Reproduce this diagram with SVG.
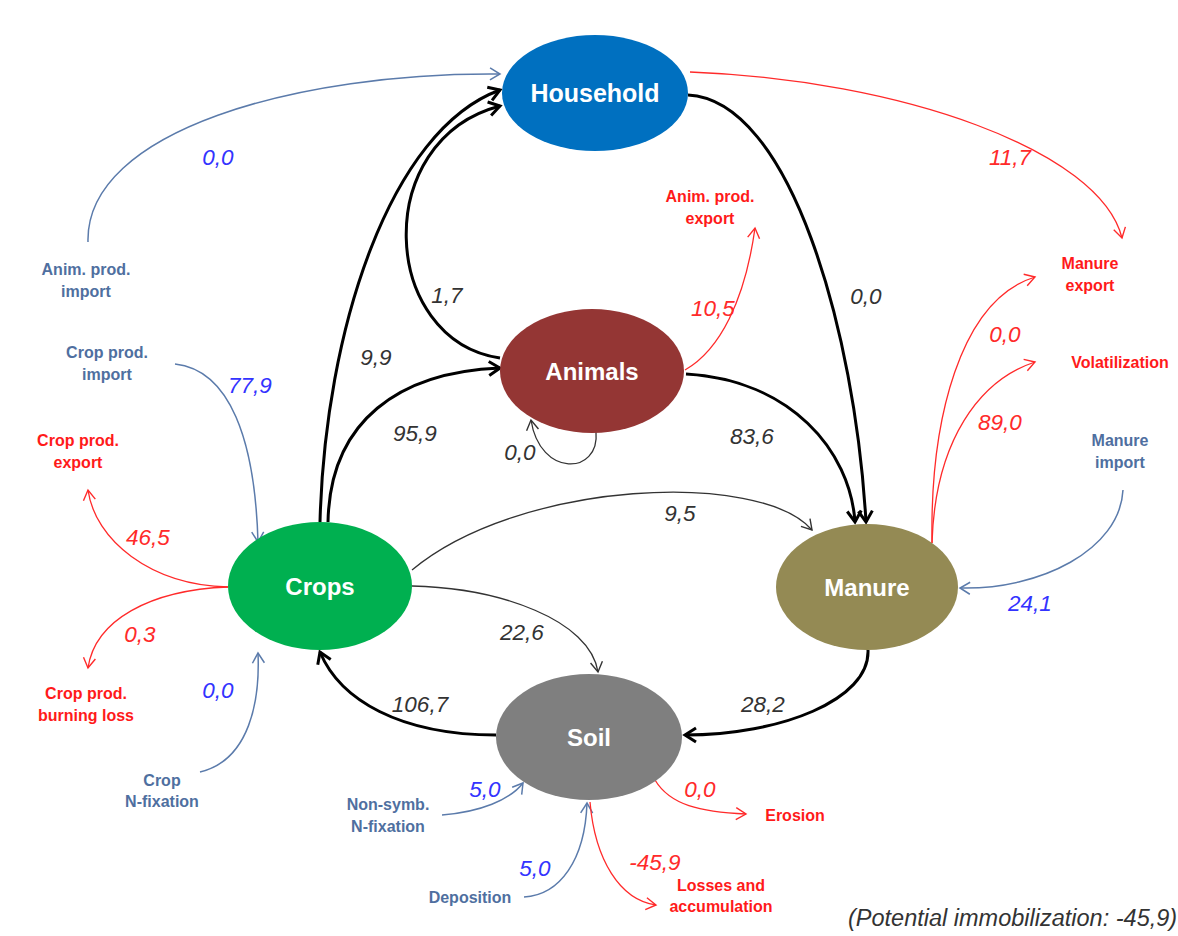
<svg xmlns="http://www.w3.org/2000/svg" width="1178" height="936" viewBox="0 0 1178 936">
<style>
.node text{font-family:"Liberation Sans",Arial,sans-serif;font-weight:bold;font-size:24px;fill:#fff;text-anchor:middle}
.lbl{font-family:"Liberation Sans",Arial,sans-serif;font-weight:bold;font-size:16px;text-anchor:middle}
.lb{fill:#4F6FA0}
.lr{fill:#FF1A1A}
.num{font-family:"Liberation Sans",Arial,sans-serif;font-style:italic;font-size:22.5px;text-anchor:middle}
.nk{fill:#333}
.nb{fill:#3333FF}
.nr{fill:#FF2A2A}
.ck{fill:none;stroke:#000;stroke-width:3}
.cg{fill:none;stroke:#333;stroke-width:1.3}
.cr{fill:none;stroke:#FF2A2A;stroke-width:1.3}
.cb{fill:none;stroke:#5B7BAB;stroke-width:1.5}
</style>
<defs>
<marker id="mk" markerUnits="userSpaceOnUse" markerWidth="18" markerHeight="18" viewBox="0 0 18 18" refX="15" refY="9" orient="auto"><path d="M4,2 L15,9 L4,16" fill="none" stroke="#000" stroke-width="3"/></marker>
<marker id="mg" markerUnits="userSpaceOnUse" markerWidth="16" markerHeight="16" viewBox="0 0 16 16" refX="13" refY="8" orient="auto"><path d="M3,2 L13,8 L3,14" fill="none" stroke="#333" stroke-width="1.4"/></marker>
<marker id="mr" markerUnits="userSpaceOnUse" markerWidth="16" markerHeight="16" viewBox="0 0 16 16" refX="13" refY="8" orient="auto"><path d="M3,2 L13,8 L3,14" fill="none" stroke="#FF2A2A" stroke-width="1.4"/></marker>
<marker id="mb" markerUnits="userSpaceOnUse" markerWidth="16" markerHeight="16" viewBox="0 0 16 16" refX="13" refY="8" orient="auto"><path d="M3,2 L13,8 L3,14" fill="none" stroke="#5B7BAB" stroke-width="1.5"/></marker>
</defs>
<rect width="1178" height="936" fill="#fff"/>

<g id="connectors">
<path class="cb" d="M88,242 C85,130 300,72 500,74" marker-end="url(#mb)"/>
<path class="ck" d="M320,522 C325,330 390,130 500,90" marker-end="url(#mk)"/>
<path class="ck" d="M500,358 C380,340 370,140 500,106" marker-end="url(#mk)"/>
<path class="ck" d="M328,522 C330,420 400,372 500,368" marker-end="url(#mk)"/>
<path class="cg" d="M596,432 C600,475 540,478 531,420" marker-end="url(#mg)"/>
<path class="cr" d="M685,370 C720,350 745,300 755,228" marker-end="url(#mr)"/>
<path class="ck" d="M688,95 C790,100 855,330 866,522" marker-end="url(#mk)"/>
<path class="cr" d="M690,72 C900,80 1100,150 1122,238" marker-end="url(#mr)"/>
<path class="ck" d="M686,374 C790,380 850,450 855,522" marker-end="url(#mk)"/>
<path class="cg" d="M412,570 C520,480 760,470 812,530" marker-end="url(#mg)"/>
<path class="cg" d="M412,586 C500,588 590,620 598,672" marker-end="url(#mg)"/>
<path class="ck" d="M496,735 C400,735 340,700 320,652" marker-end="url(#mk)"/>
<path class="ck" d="M868,650 C870,700 780,735 685,735" marker-end="url(#mk)"/>
<path class="cr" d="M932,543 C930,420 960,300 1035,277" marker-end="url(#mr)"/>
<path class="cr" d="M932,543 C935,440 980,380 1035,362" marker-end="url(#mr)"/>
<path class="cb" d="M1123,490 C1120,550 1040,590 960,588" marker-end="url(#mb)"/>
<path class="cb" d="M175,364 C230,370 255,440 258,542" marker-end="url(#mb)"/>
<path class="cr" d="M228,587 C150,585 95,540 88,490" marker-end="url(#mr)"/>
<path class="cr" d="M228,587 C150,590 95,620 88,668" marker-end="url(#mr)"/>
<path class="cb" d="M200,772 C250,760 260,700 258,653" marker-end="url(#mb)"/>
<path class="cb" d="M442,815 C480,812 510,800 523,783" marker-end="url(#mb)"/>
<path class="cb" d="M524,897 C560,895 585,860 587,803" marker-end="url(#mb)"/>
<path class="cr" d="M590,802 C595,860 620,900 656,905" marker-end="url(#mr)"/>
<path class="cr" d="M655,780 C670,805 700,812 746,814" marker-end="url(#mr)"/>
</g>

<g id="household" class="node"><ellipse cx="595" cy="93" rx="93" ry="58" fill="#0070C0"/><text x="595" y="102" style="font-size:25px">Household</text></g>
<g id="animals" class="node"><ellipse cx="592" cy="371" rx="92" ry="62" fill="#943634"/><text x="592" y="380">Animals</text></g>
<g id="crops" class="node"><ellipse cx="320" cy="586" rx="92" ry="64" fill="#00B050"/><text x="320" y="595">Crops</text></g>
<g id="manure" class="node"><ellipse cx="867" cy="587" rx="91" ry="63" fill="#948A54"/><text x="867" y="596">Manure</text></g>
<g id="soil" class="node"><ellipse cx="589" cy="737" rx="93" ry="63" fill="#7F7F7F"/><text x="589" y="746">Soil</text></g>

<g id="labels">
<text class="lbl lb" x="86" y="275">Anim. prod.</text><text class="lbl lb" x="86" y="297">import</text>
<text class="lbl lr" x="710" y="202">Anim. prod.</text><text class="lbl lr" x="710" y="224">export</text>
<text class="lbl lr" x="1090" y="269">Manure</text><text class="lbl lr" x="1090" y="291">export</text>
<text class="lbl lr" x="1120" y="368">Volatilization</text>
<text class="lbl lb" x="1120" y="446">Manure</text><text class="lbl lb" x="1120" y="468">import</text>
<text class="lbl lb" x="107" y="358">Crop prod.</text><text class="lbl lb" x="107" y="380">import</text>
<text class="lbl lr" x="78" y="446">Crop prod.</text><text class="lbl lr" x="78" y="468">export</text>
<text class="lbl lr" x="86" y="699">Crop prod.</text><text class="lbl lr" x="86" y="721">burning loss</text>
<text class="lbl lb" x="162" y="786">Crop</text><text class="lbl lb" x="162" y="807">N-fixation</text>
<text class="lbl lb" x="388" y="810">Non-symb.</text><text class="lbl lb" x="388" y="832">N-fixation</text>
<text class="lbl lb" x="470" y="903">Deposition</text>
<text class="lbl lr" x="795" y="821">Erosion</text>
<text class="lbl lr" x="721" y="891">Losses and</text><text class="lbl lr" x="721" y="912">accumulation</text>
<text class="num nk" x="848" y="926" style="text-anchor:start;font-size:23.5px">(Potential immobilization: -45,9)</text>
</g>

<g id="values">
<text class="num nb" x="218" y="165">0,0</text>
<text class="num nr" x="1010" y="165">11,7</text>
<text class="num nk" x="447" y="303">1,7</text>
<text class="num nk" x="376" y="365">9,9</text>
<text class="num nr" x="713" y="316">10,5</text>
<text class="num nk" x="866" y="304">0,0</text>
<text class="num nb" x="250" y="393">77,9</text>
<text class="num nk" x="415" y="441">95,9</text>
<text class="num nk" x="520" y="460">0,0</text>
<text class="num nk" x="752" y="444">83,6</text>
<text class="num nr" x="1005" y="342">0,0</text>
<text class="num nr" x="1000" y="430">89,0</text>
<text class="num nr" x="148" y="545">46,5</text>
<text class="num nk" x="680" y="521">9,5</text>
<text class="num nb" x="1030" y="611">24,1</text>
<text class="num nr" x="140" y="642">0,3</text>
<text class="num nk" x="522" y="640">22,6</text>
<text class="num nb" x="218" y="698">0,0</text>
<text class="num nk" x="420" y="712">106,7</text>
<text class="num nk" x="763" y="712">28,2</text>
<text class="num nb" x="485" y="797">5,0</text>
<text class="num nr" x="700" y="797">0,0</text>
<text class="num nb" x="535" y="876">5,0</text>
<text class="num nr" x="655" y="870">-45,9</text>
</g>
</svg>
